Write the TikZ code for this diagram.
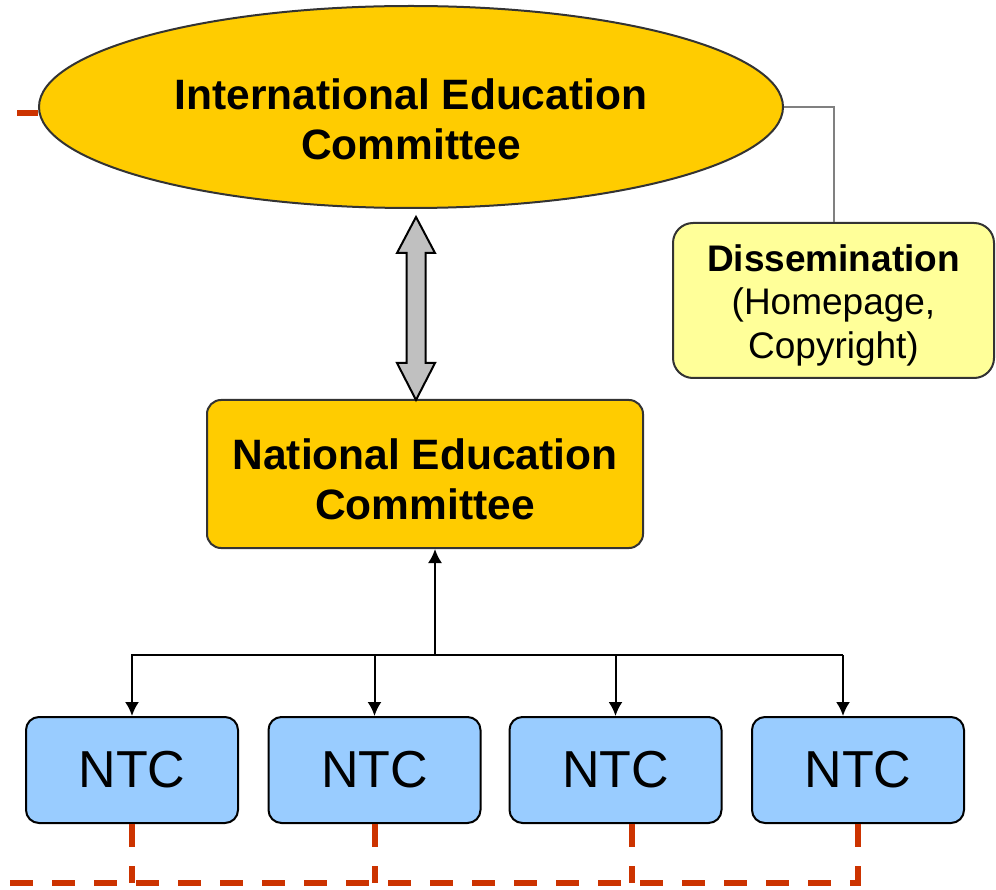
\documentclass[tikz,border=0pt]{standalone}
\usepackage{fontspec}
\setmainfont{Liberation Sans}
\usetikzlibrary{shapes.geometric,arrows.meta,calc}
\definecolor{gold}{HTML}{FFCC00}
\definecolor{paleyellow}{HTML}{FFFF99}
\definecolor{ntcblue}{HTML}{99CCFF}
\definecolor{arrowgray}{HTML}{C0C0C0}
\definecolor{edge}{HTML}{333333}
\definecolor{linkgray}{HTML}{808080}
\definecolor{dashred}{HTML}{CC3300}
\tikzset{
  bigtxt/.style={font=\fontsize{42.5}{50}\selectfont\bfseries, align=center, inner sep=0pt},
  disstxt/.style={font=\fontsize{37}{43.5}\selectfont, align=center, inner sep=0pt},
  ntcbox/.style={draw=black, line width=2pt, fill=ntcblue, rounded corners=13pt,
    minimum width=212pt, minimum height=106pt, inner sep=0pt,
    font=\fontsize{52}{60}\selectfont},
  conn/.style={draw=black, line width=2pt, -{Latex[length=14pt,width=14pt]}},
  connline/.style={draw=black, line width=2pt},
  graylink/.style={draw=linkgray, line width=2pt},
  reddash/.style={draw=dashred, line width=6pt, dash pattern=on 23pt off 19pt},
  dblarrow/.style={draw=black, line width=2pt, fill=arrowgray, line join=miter},
}
\begin{document}
\begin{tikzpicture}[x=1pt,y=-1pt]
\useasboundingbox (0,0) rectangle (996,890);

% International Education Committee
\node[ellipse, draw=edge, line width=2pt, fill=gold, minimum width=744pt,
      minimum height=202pt, inner sep=0pt] (ie) at (411,107) {};
\node[bigtxt] (iet) at ($(ie.center)+(0,12)$) {International Education\\Committee};

% Dissemination
\node[draw=edge, line width=2pt, fill=paleyellow, rounded corners=20pt,
      minimum width=321pt, minimum height=155pt, inner sep=0pt] (diss) at (833.5,300.5) {};
\node[disstxt] (disst) at ($(diss.center)+(0,4.5)$) {\textbf{Dissemination}\\(Homepage,\\Copyright)};

% National Education Committee
\node[draw=edge, line width=2pt, fill=gold, rounded corners=14pt,
      minimum width=436pt, minimum height=148pt, inner sep=0pt] (nec) at (425,474) {};
\node[bigtxt] (nect) at ($(nec.center)+(0,5.5)$) {National Education\\Committee};

% NTC boxes
\node[ntcbox] (ntc1) at (132,770) {NTC};
\node[ntcbox] (ntc2) at (374.5,770) {NTC};
\node[ntcbox] (ntc3) at (615.5,770) {NTC};
\node[ntcbox] (ntc4) at (858,770) {NTC};

% double arrow between committees
\coordinate (dtop) at (416,217);
\coordinate (dbot) at (416,400);
\draw[dblarrow] (dtop) -- ++(19,36) -- ++(-9.5,0) -- ($(dbot)+(9.5,-37)$) -- ++(9.5,0)
  -- (dbot) -- ++(-19,-37) -- ++(9.5,0) -- ($(dtop)+(-9.5,36)$) -- ++(-9.5,0) -- cycle;

% gray link to dissemination
\draw[graylink] (ie.east) -| (diss.north);

% tree of black arrows
\coordinate (hub) at (435,655);
\coordinate (hl) at (131,655);
\coordinate (hr) at (843,655);
\draw[connline] (hl) -- (hr);
\draw[conn] (hub) -- (hub |- nec.south);
\draw[conn] (ntc1.north |- hub) -- (ntc1.north);
\draw[conn] (ntc2.north |- hub) -- (ntc2.north);
\draw[conn] (ntc3.north |- hub) -- (ntc3.north);
\draw[conn] (hr) -- (hr |- ntc4.north);

% red dashed lines
\coordinate (bl) at (10,883);
\coordinate (br) at (861,883);
\draw[reddash] (bl) -- (br);
\draw[reddash] (ntc1.south) -- (ntc1.south |- bl);
\draw[reddash] (ntc2.south) -- (ntc2.south |- bl);
\draw[reddash] ($(ntc3.south)+(16.5,0)$) coordinate (r3) -- (r3 |- bl);
\draw[reddash] (ntc4.south) -- (ntc4.south |- bl);

% red stub at left of ellipse
\coordinate (stub) at (17,113);
\draw[draw=dashred, line width=6pt] (stub) -- (stub -| ie.west);
\end{tikzpicture}
\end{document}
